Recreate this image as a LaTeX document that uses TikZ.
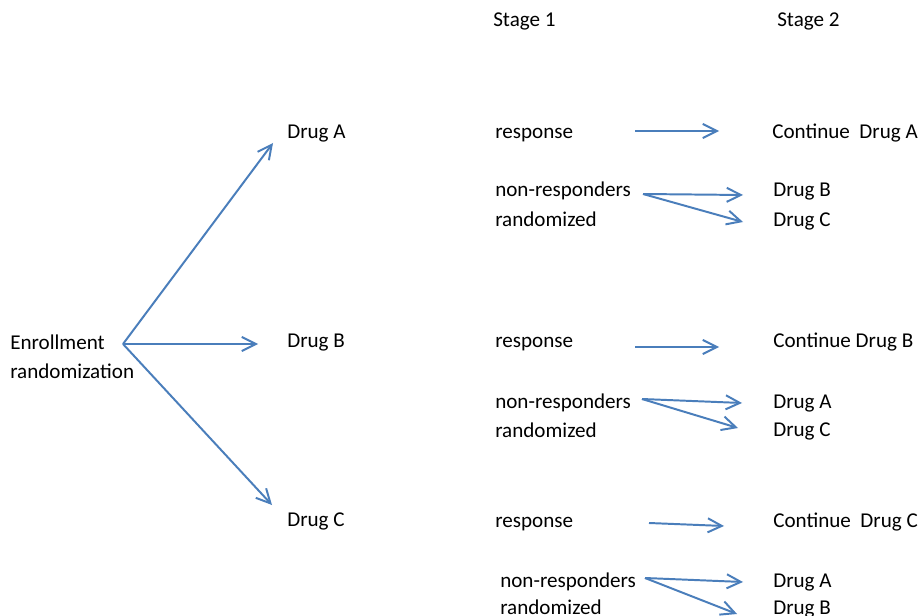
\documentclass[tikz,border=0pt]{standalone}
\usepackage{fontspec}
\setmainfont{Carlito}
\usepackage{xcolor}
\usetikzlibrary{arrows.meta,calc}
\definecolor{armblue}{RGB}{74,126,187}
\tikzset{
  lbl/.style={
    inner sep=0pt,
    anchor=base west,
    font=\fontsize{15}{18}\selectfont
  },
  arr/.style={
    draw=armblue,
    line width=1.4pt,
    -{Straight Barb[length=10pt,width=10pt,line width=1.4pt]}
  }
}

\begin{document}
\begin{tikzpicture}[x=0.025cm,y=-0.025cm]
    \useasboundingbox[fill=white] (0,0) rectangle (920,616);
    \node[lbl] (st1) at (493,27) {Stage 1};
    \node[lbl] (st2) at (777,27) {Stage 2};
    \node[lbl] (enroll) at (10,349) {Enrollment};
    \node[lbl] (enroll2) at (10,378) {randomization};
    \coordinate (split) at (123,344);
    \node[lbl] (drugA) at (287,139) {Drug A};
    \node[lbl] (drugB) at (287,347) {Drug B};
    \node[lbl] (drugC) at (287,526) {Drug C};
    \draw[arr] (split) -- ($(drugA.base west)+(-14,4)$);
    \draw[arr] (split) -- ($(drugB.base west)+(-29,-3)$);
    \draw[arr] (split) -- ($(drugC.base west)+(-15,-21)$);
    % stage 1 after drug A
    \node[lbl] (respA) at (495,139) {response};
    \node[lbl] (nonrA) at (495,197) {non-responders};
    \node[lbl] (randA) at (495,227) {randomized};
    \node[lbl] (contA) at (772,139) {Continue\ \ Drug A};
    \node[lbl] (aB) at (773,197) {Drug B};
    \node[lbl] (aC) at (773,227) {Drug C};
    \draw[arr] ($(respA.base west)+(140,-8)$) -- ($(contA.base west)+(-53,-8)$);
    \draw[arr] ($(nonrA.base west)+(148,-3)$) -- ($(aB.base west)+(-30,-2)$);
    \draw[arr] ($(nonrA.base west)+(148,-3)$) -- ($(aC.base west)+(-30,-5)$);
    % stage 1 after drug B
    \node[lbl] (respB) at (495,347) {response};
    \node[lbl] (nonrB) at (495,408) {non-responders};
    \node[lbl] (randB) at (495,437) {randomized};
    \node[lbl] (contB) at (773,347) {Continue Drug B};
    \node[lbl] (bA) at (773,408) {Drug A};
    \node[lbl] (bC) at (773,436) {Drug C};
    \draw[arr] ($(respB.base west)+(140,0)$) -- ($(contB.base west)+(-54,0)$);
    \draw[arr] ($(nonrB.base west)+(147,-9)$) -- ($(bA.base west)+(-31,-5)$);
    \draw[arr] ($(nonrB.base west)+(147,-9)$) -- ($(bC.base west)+(-35,-8)$);
    % stage 1 after drug C
    \node[lbl] (respC) at (495,527) {response};
    \node[lbl] (nonrC) at (500,587) {non-responders};
    \node[lbl] (randC) at (500,614) {randomized};
    \node[lbl] (contC) at (773,527) {Continue\ \ Drug C};
    \node[lbl] (cA) at (773,587) {Drug A};
    \node[lbl] (cB) at (773,614) {Drug B};
    \draw[arr] ($(respC.base west)+(154,-4)$) -- ($(contC.base west)+(-49,-1)$);
    \draw[arr] ($(nonrC.base west)+(145,-9)$) -- ($(cA.base west)+(-30,-5)$);
    \draw[arr] ($(nonrC.base west)+(145,-9)$) -- ($(cB.base west)+(-36,0)$);
\end{tikzpicture}
\end{document}
